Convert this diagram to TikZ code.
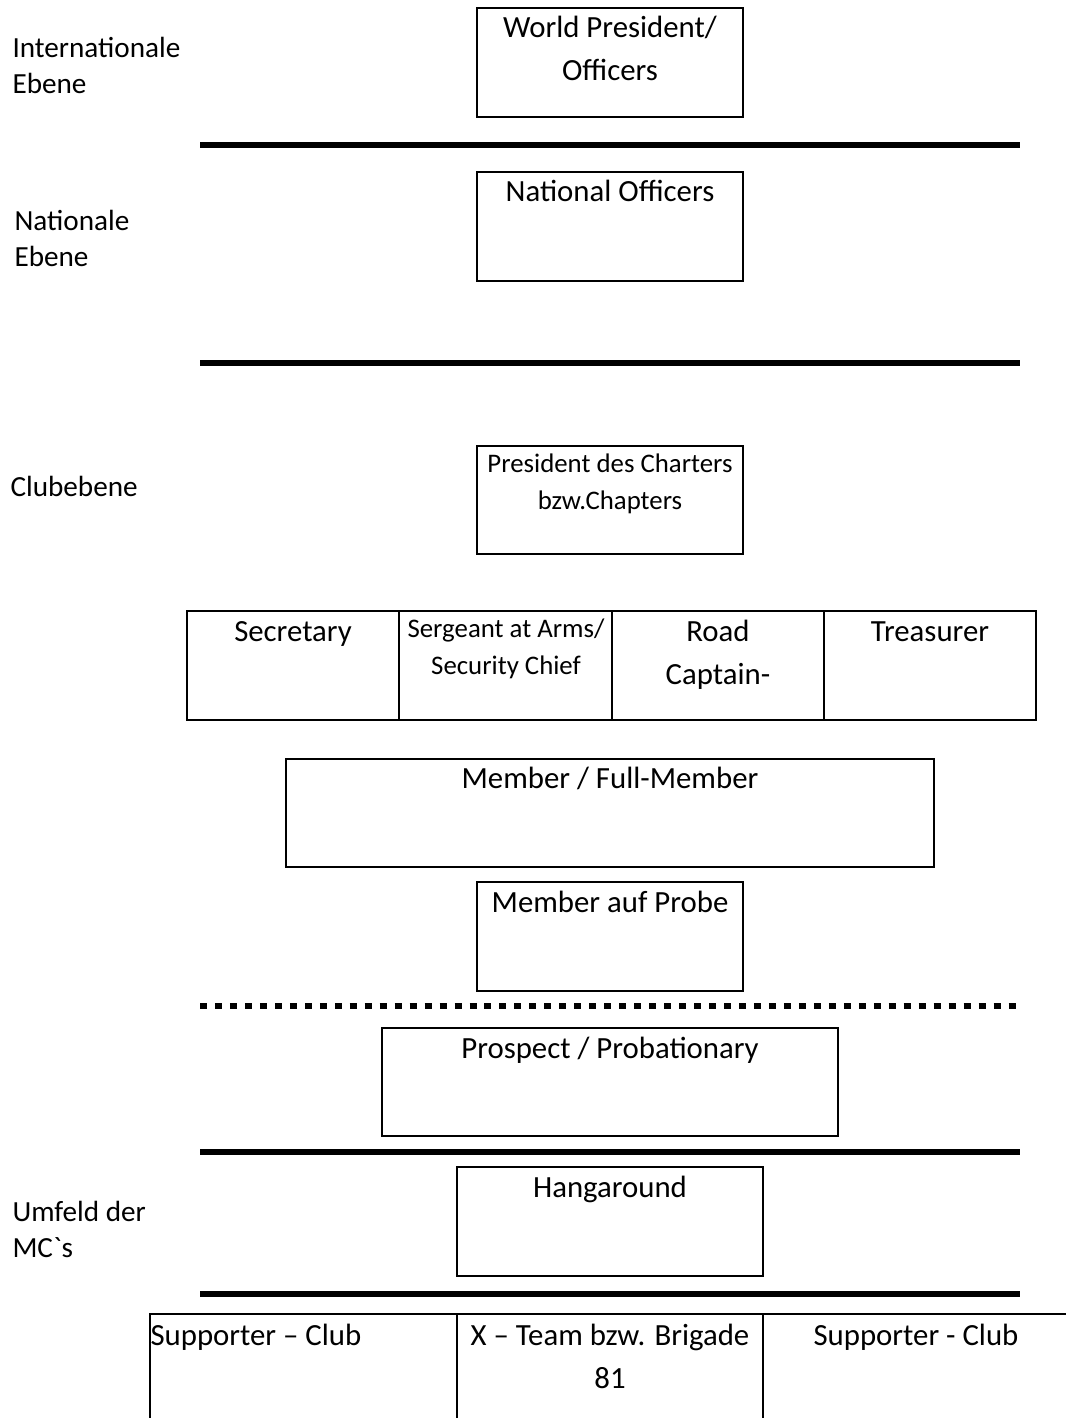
\documentclass[tikz,border=0pt]{standalone}
\usepackage{fontspec}
\setmainfont{Carlito}
\tikzset{
  box/.style={draw, line width=0.75pt},
  lvl/.style={font=\fontsize{11}{13.6}\selectfont, align=left, anchor=base west, inner sep=0pt},
  boxtext/.style={font=\fontsize{11.6}{16.2}\selectfont, align=center, anchor=base, inner sep=0pt},
  smalltext/.style={font=\fontsize{10.1}{13.8}\selectfont, align=center, anchor=base, inner sep=0pt},
  divider/.style={line width=2.45pt},
  dotdivider/.style={line width=2.6pt, dash pattern=on 2.64pt off 3pt}
}

\begin{document}
\begin{tikzpicture}[x=0.3767pt, y=-0.3767pt]
\useasboundingbox (0,0) rectangle (1066,1418);
% levels on the left (base = last line)
\node [lvl] (intl) at (12,93.5) {Internationale\\Ebene};
\node [lvl] (natl) at (14,266.5) {Nationale\\Ebene};
\node [lvl] (club) at (10,496.5) {Clubebene};
\node [lvl] (umfeld) at (12,1257.5) {Umfeld der\\MC\textasciigrave s};
% international / national
\draw [box] (477,8) rectangle (743,117);
\node [boxtext] (world) at (610,80.5) {World President/\\Officers};
\draw [divider] (200,145) -- (1020,145);
\draw [box] (477,172) rectangle (743,281);
\node [boxtext] (natoff) at (610,201.5) {National Officers};
\draw [divider] (200,363) -- (1020,363);
% club
\draw [box] (477,446) rectangle (743,554);
\node [smalltext] (pres) at (610,509.5) {President des Charters\\bzw.Chapters};
\draw [box] (187,611) rectangle (1036,720);
\draw [box] (399,611) -- (399,720);
\draw [box] (612,611) -- (612,720);
\draw [box] (824,611) -- (824,720);
\node [boxtext] (secr) at (293,641.5) {Secretary};
\node [smalltext] (sgt) at (506,674.5) {Sergeant at Arms/\\Security Chief};
\node [boxtext] (road) at (718,684.5) {Road\\Captain-};
\node [boxtext] (treas) at (930,641.5) {Treasurer};
\draw [box] (286,759) rectangle (934,867);
\node [boxtext] (full) at (610,788.5) {Member / Full-Member};
\draw [box] (477,882) rectangle (743,991);
\node [boxtext] (probe) at (610,912.5) {Member auf Probe};
\draw [dotdivider] (200,1006) -- (1020,1006);
\draw [box] (382,1028) rectangle (838,1136);
\node [boxtext] (prosp) at (610,1058.5) {Prospect / Probationary};
\draw [divider] (200,1152) -- (1020,1152);
% surroundings
\draw [box] (457,1167) rectangle (763,1276);
\node [boxtext] (hang) at (610,1197.5) {Hangaround};
\draw [divider] (200,1294) -- (1020,1294);
\draw [box] (150,1418) -- (150,1314) -- (1066,1314);
\draw [box] (457,1314) -- (457,1418);
\draw [box] (763,1314) -- (763,1418);
\node [boxtext, anchor=base west] (supl) at (150,1345.5) {Supporter – Club};
\node [boxtext] (xteam) at (610,1388.5) {X – Team bzw. Brigade\\81};
\node [boxtext] (supr) at (916,1345.5) {Supporter - Club};
\end{tikzpicture}
\end{document}
